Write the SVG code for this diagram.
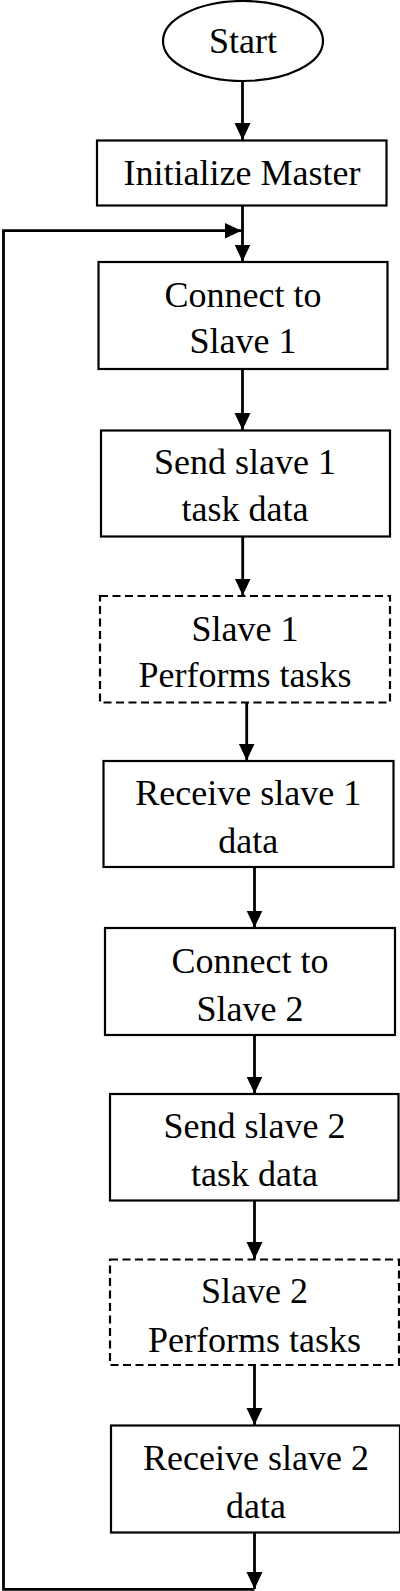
<svg xmlns="http://www.w3.org/2000/svg" width="400" height="1591" viewBox="0 0 400 1591">
<style>
.box{fill:#fff;stroke:#000;stroke-width:2.2}
.dash{fill:#fff;stroke:#000;stroke-width:2.2;stroke-dasharray:8 4.5}
.lbl{font-family:"Liberation Serif","Times New Roman",serif;font-size:36px;fill:#000;text-anchor:middle}
.edge{fill:none;stroke:#000;stroke-width:2.8}
</style>
<defs>
<marker id="ah" markerUnits="userSpaceOnUse" markerWidth="18" markerHeight="17" refX="17" refY="8" orient="auto" viewBox="0 0 18 16">
<path d="M0,0 L17,8 L0,16 z" fill="#000"/>
</marker>
</defs>
<rect width="400" height="1591" fill="#fff"/>
<g id="connectors">
<line class="edge" x1="242.5" y1="81.5" x2="242.5" y2="140" marker-end="url(#ah)"/>
<line class="edge" x1="242.5" y1="206" x2="242.5" y2="261.5" marker-end="url(#ah)"/>
<line class="edge" x1="242.5" y1="369" x2="242.5" y2="430" marker-end="url(#ah)"/>
<line class="edge" x1="242.7" y1="536.7" x2="242.7" y2="595.5" marker-end="url(#ah)"/>
<line class="edge" x1="246.7" y1="702.7" x2="246.7" y2="760.5" marker-end="url(#ah)"/>
<line class="edge" x1="254.5" y1="867.3" x2="254.5" y2="927.5" marker-end="url(#ah)"/>
<line class="edge" x1="254.5" y1="1035" x2="254.5" y2="1093.5" marker-end="url(#ah)"/>
<line class="edge" x1="254.5" y1="1200.7" x2="254.5" y2="1259" marker-end="url(#ah)"/>
<line class="edge" x1="254.5" y1="1365" x2="254.5" y2="1425" marker-end="url(#ah)"/>
<line class="edge" x1="254.5" y1="1532.7" x2="254.5" y2="1589" marker-end="url(#ah)"/>
<path class="edge" d="M254.5,1589.3 H3.5 V230.7 H241.5" marker-end="url(#ah)"/>
</g>
<g id="start">
<ellipse class="box" cx="243" cy="41" rx="80" ry="40"/>
<text class="lbl" x="243" y="53">Start</text>
</g>
<g id="init">
<rect class="box" x="97" y="140.5" width="289.5" height="65"/>
<text class="lbl" x="242" y="185">Initialize Master</text>
</g>
<g id="connect1">
<rect class="box" x="98.5" y="262" width="289" height="107"/>
<text class="lbl" x="243" y="306.7">Connect to</text>
<text class="lbl" x="243" y="353.3">Slave 1</text>
</g>
<g id="send1">
<rect class="box" x="101" y="430.5" width="289" height="106"/>
<text class="lbl" x="245" y="474">Send slave 1</text>
<text class="lbl" x="245" y="520.7">task data</text>
</g>
<g id="slave1">
<rect class="dash" x="100" y="596" width="290" height="106.5"/>
<text class="lbl" x="245" y="640.7">Slave 1</text>
<text class="lbl" x="245" y="687.3">Performs tasks</text>
</g>
<g id="recv1">
<rect class="box" x="103.5" y="761" width="290" height="106"/>
<text class="lbl" x="248.3" y="805">Receive slave 1</text>
<text class="lbl" x="248.3" y="853.3">data</text>
</g>
<g id="connect2">
<rect class="box" x="105" y="928" width="290" height="107"/>
<text class="lbl" x="250" y="972.7">Connect to</text>
<text class="lbl" x="250" y="1020.7">Slave 2</text>
</g>
<g id="send2">
<rect class="box" x="110" y="1094" width="288.5" height="106.5"/>
<text class="lbl" x="254.5" y="1138.3">Send slave 2</text>
<text class="lbl" x="254.5" y="1186">task data</text>
</g>
<g id="slave2">
<rect class="dash" x="110" y="1259.5" width="289" height="105.5"/>
<text class="lbl" x="254.5" y="1303.3">Slave 2</text>
<text class="lbl" x="254.5" y="1351.7">Performs tasks</text>
</g>
<g id="recv2">
<rect class="box" x="111" y="1425.5" width="289" height="107"/>
<text class="lbl" x="256" y="1470">Receive slave 2</text>
<text class="lbl" x="256" y="1518.3">data</text>
</g>
</svg>
